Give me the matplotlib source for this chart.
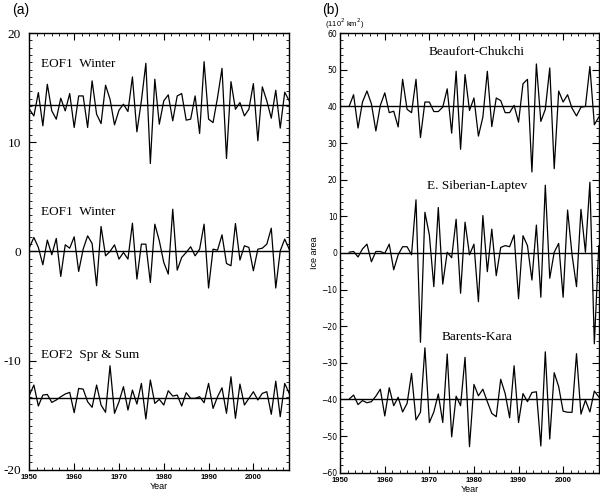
import numpy as np
import matplotlib.pyplot as plt
from matplotlib.ticker import MultipleLocator, AutoMinorLocator, FuncFormatter

# ============================================================================
# DATA
# ============================================================================
years_a = np.arange(1950, 2009)
years_b = np.arange(1952, 2009)

# panel (a): anomalies, each curve drawn about its own offset
offsets_a = [13.4, 0.0, -13.4]
labels_a = ['EOF1  Winter', 'EOF1  Winter', 'EOF2  Spr & Sum']
label_y_a = [17.2, 3.6, -9.5]

eof1_winter_top = [
    -0.37, -0.98, 1.16, -1.89, 1.92, -0.52, -1.28, 0.64, -0.52, 1.07,
    -2.04, 0.85, 0.85, -2.04, 2.23, -0.82, -1.68, 1.83, 0.55, -1.80,
    -0.46, 0.09, -0.58, 2.59, -2.44, 0.40, 3.84, -5.34, 2.38, -1.74,
    0.40, 0.95, -1.43, 0.85, 1.07, -1.37, -1.28, 0.85, -2.59, 3.99,
    -1.28, -1.59, 0.70, 3.38, -4.88, 2.16, -0.37, 0.24, -0.98, -0.37,
    1.98, -3.26, 1.68, 0.40, -1.19, 1.37, -2.10, 1.19, 0.40]

eof1_winter_mid = [
    0.37, 1.28, 0.37, -1.22, 1.04, -0.30, 1.19, -2.29, 0.61, 0.30,
    1.34, -1.83, 0.21, 1.43, 0.73, -3.14, 2.29, -0.40, 0.00, 0.61,
    -0.70, -0.09, -0.70, 2.59, -2.53, 0.67, 0.67, -2.84, 2.50, 0.98,
    -1.01, -2.07, 3.87, -1.71, -0.55, -0.09, 0.43, -0.40, 0.21, 2.50,
    -3.35, 0.21, 0.12, 1.52, -1.10, -1.31, 2.56, -0.79, 0.52, 0.37,
    -1.77, 0.21, 0.30, 0.67, 2.13, -3.35, 0.06, 1.13, 0.21]

eof2_spr_sum = [
    0.24, 1.16, -0.76, 0.24, 0.30, -0.43, -0.21, 0.09, 0.34, 0.49,
    -1.37, 0.85, 0.79, -0.37, -0.88, 1.16, -0.67, -1.34, 2.93, -1.43,
    -0.37, 1.01, -1.13, 0.70, -0.58, 1.31, -1.95, 1.62, -0.52, -0.15,
    -0.67, 0.64, 0.15, 0.24, -0.76, 0.46, -0.06, -0.06, 0.09, -0.46,
    1.31, -0.98, 0.09, 0.91, -1.43, 1.92, -1.89, 1.25, -0.67, -0.06,
    0.55, -0.21, 0.40, 0.55, -1.52, 1.52, -1.74, 1.31, 0.40]

# panel (b): ice area, already offset (x 10^2 km^2)
baselines_b = [40, 0, -40]
labels_b = ['Beaufort-Chukchi', 'E. Siberian-Laptev', 'Barents-Kara']
label_y_b = [54.8, 18.2, -23.0]

beaufort_chukchi = [
    40.0, 43.2, 34.1, 41.2, 44.2, 40.7, 33.3, 40.3, 43.7, 38.3,
    38.7, 34.4, 47.4, 39.2, 38.3, 47.4, 31.5, 41.2, 41.2, 38.6,
    38.6, 39.8, 44.8, 32.7, 49.6, 28.3, 48.7, 38.9, 42.3, 31.9,
    37.1, 49.6, 34.5, 42.3, 41.6, 38.3, 38.3, 40.3, 35.7, 46.2,
    47.4, 22.1, 51.6, 35.9, 39.2, 50.5, 23.0, 44.2, 41.2, 43.2,
    39.5, 37.4, 39.8, 40.0, 50.9, 35.0, 37.1]

siberian_laptev = [
    0.2, 0.4, -1.1, 1.1, 2.4, -2.4, 0.4, 0.4, -0.1, 2.4,
    -4.6, -0.5, 1.7, 1.7, -0.5, 14.5, -24.4, 11.1, 4.9, -9.2,
    12.4, -8.5, 0.2, -1.3, 9.2, -11.0, 8.4, -0.5, 2.4, -13.3,
    10.2, -5.1, 6.5, -6.2, 1.5, 2.0, 1.7, 4.9, -12.5, 4.7,
    2.0, -7.4, 7.6, -12.1, 18.5, -6.9, 0.2, 2.6, -12.1, 11.7,
    -0.5, -9.2, 11.9, 0.2, 19.3, -24.8, 2.0]

barents_kara = [
    -39.9, -38.8, -41.4, -40.3, -40.9, -40.6, -39.1, -37.2, -44.5, -36.8,
    -41.7, -39.4, -43.4, -41.1, -32.9, -45.6, -43.5, -25.9, -46.3, -43.4,
    -38.5, -46.3, -27.6, -50.2, -39.1, -41.7, -28.5, -52.9, -35.9, -39.0,
    -37.2, -40.6, -43.8, -44.7, -34.5, -38.4, -45.0, -30.8, -46.3, -38.4,
    -40.6, -38.1, -37.9, -52.7, -27.0, -50.8, -32.7, -36.5, -43.2, -43.5,
    -43.5, -27.5, -44.0, -40.2, -43.4, -37.7, -39.3]

series_a = [eof1_winter_top, eof1_winter_mid, eof2_spr_sum]
series_b = [beaufort_chukchi, siberian_laptev, barents_kara]

# ============================================================================
# FIGURE
# ============================================================================
fig = plt.figure(figsize=(6.0, 4.95), dpi=100)
ax_a = fig.add_axes([0.049, 0.051, 0.433, 0.882])
ax_b = fig.add_axes([0.567, 0.045, 0.431, 0.888])

serif = ['Liberation Serif', 'DejaVu Serif']
sans = ['Liberation Sans', 'DejaVu Sans']

# ---- panel (a)
for vals, off, lab, ly in zip(series_a, offsets_a, labels_a, label_y_a):
    ax_a.axhline(off, color='black', lw=1.0, zorder=1)
    ax_a.plot(years_a, np.array(vals) + off, color='black', lw=0.9, zorder=2)
    ax_a.text(1952.6, ly, lab, family=serif, fontsize=9.5, va='center', ha='left')

ax_a.set_xlim(1950, 2008)
ax_a.set_ylim(-20, 20)
ax_a.yaxis.set_major_locator(MultipleLocator(10))
ax_a.yaxis.set_minor_locator(AutoMinorLocator(15))
ax_a.yaxis.set_major_formatter(FuncFormatter(lambda v, _: f'{int(v)}'))
for t in ax_a.get_yticklabels():
    t.set_family(serif)
ax_a.tick_params(axis='y', labelsize=9.5, pad=6)

# ---- panel (b)
for vals, base, lab, ly in zip(series_b, baselines_b, labels_b, label_y_b):
    ax_b.axhline(base, color='black', lw=1.0, zorder=1)
    ax_b.plot(years_b, vals, color='black', lw=0.9, zorder=2)
    ax_b.text(1980.6, ly, lab, family=serif, fontsize=9.5, va='center', ha='center')

ax_b.set_xlim(1950, 2008)
ax_b.set_ylim(-60, 60)
ax_b.yaxis.set_major_locator(MultipleLocator(10))
ax_b.yaxis.set_minor_locator(AutoMinorLocator(5))
ax_b.tick_params(axis='y', labelsize=5.5, pad=2)
ax_b.set_ylabel('Ice area', fontsize=6.5, family=sans, labelpad=2)

# ---- shared styling
for ax in (ax_a, ax_b):
    ax.xaxis.set_major_locator(MultipleLocator(10))
    ax.xaxis.set_minor_locator(AutoMinorLocator(6))
    ax.tick_params(which='both', direction='in', top=True, right=True)
    ax.tick_params(which='major', length=5, width=0.8)
    ax.tick_params(which='minor', length=2.5, width=0.6)
    ax.tick_params(axis='x', labelsize=5.5, pad=3)
    for t in ax.get_xticklabels():
        t.set_family(sans)
        t.set_fontweight('bold')
    ax.set_xlabel('Year', fontsize=6.5, family=sans, labelpad=1)
    for sp in ax.spines.values():
        sp.set_linewidth(1.0)

# ---- panel tags and units
fig.text(12 / 600, 1 - 10 / 495, '(a)', fontsize=10, family=sans, va='center', ha='left')
fig.text(322 / 600, 1 - 10 / 495, '(b)', fontsize=10, family=sans, va='center', ha='left')
fig.text(325 / 600, 1 - 24 / 495, '(110$^2$ km$^2$)', fontsize=5.5, family=sans,
         va='center', ha='left')

# ============================================================================
# SAVE
# ============================================================================
fig.savefig('out.png', dpi=100)
